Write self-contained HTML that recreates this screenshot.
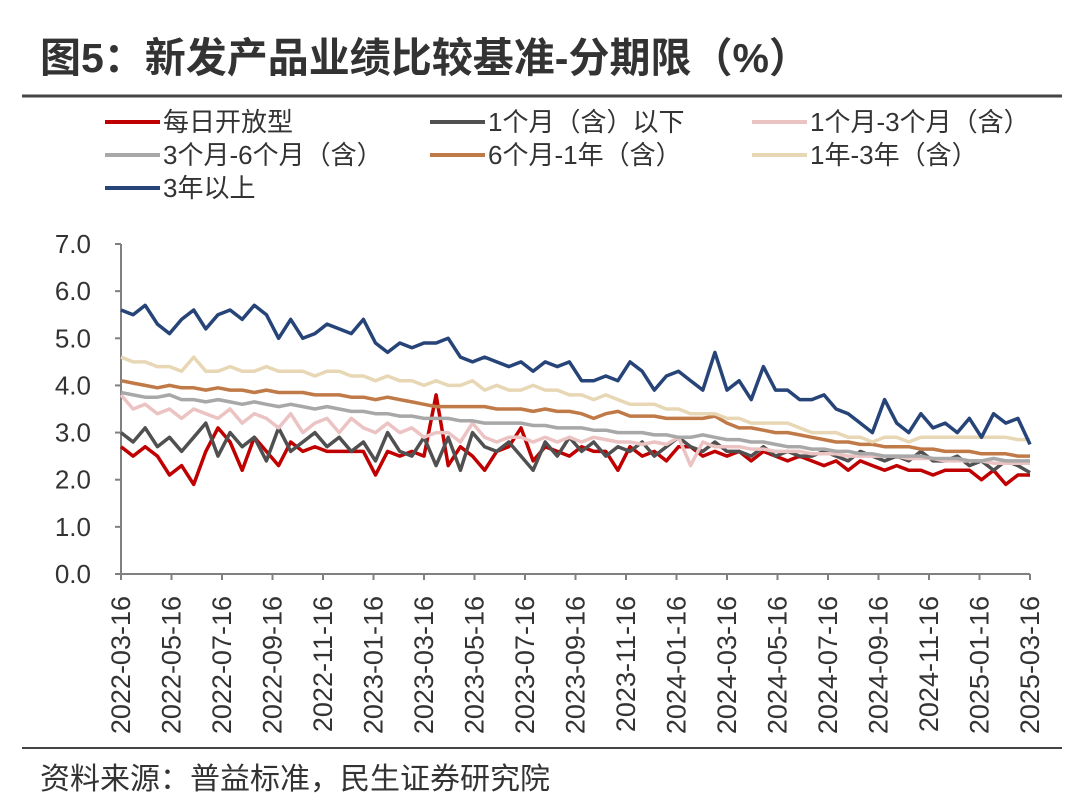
<!DOCTYPE html>
<html><head><meta charset="utf-8"><style>
body{margin:0;background:#fff;width:1080px;height:801px;overflow:hidden;font-family:"Liberation Sans","Noto Sans CJK SC",sans-serif;}
</style></head><body>
<svg width="1080" height="801" font-family="Liberation Sans, Noto Sans CJK SC, sans-serif">
<text x="40" y="72" font-size="41" font-weight="bold" fill="#333">图5：新发产品业绩比较基准-分期限（%）</text>
<line x1="22" y1="96" x2="1062" y2="96" stroke="#444" stroke-width="3"/>
<line x1="22" y1="748" x2="1062" y2="748" stroke="#444" stroke-width="2"/>
<text x="40" y="789" font-size="30" fill="#333">资料来源：普益标准，民生证券研究院</text>
<g id="legend"></g><g id="axes"></g><g id="plot"></g>
</svg>
<script>
const names=["每日开放型","1个月（含）以下","1个月-3个月（含）","3个月-6个月（含）","6个月-1年（含）","1年-3年（含）","3年以上"];
const colors=["#c00000","#505050","#ecc3c3","#a8a8a8","#c07a48","#e8d7b4","#264478"];
const xLabels=["2022-03-16","2022-05-16","2022-07-16","2022-09-16","2022-11-16","2023-01-16","2023-03-16","2023-05-16","2023-07-16","2023-09-16","2023-11-16","2024-01-16","2024-03-16","2024-05-16","2024-07-16","2024-09-16","2024-11-16","2025-01-16","2025-03-16"];
const yTicks=[0,1,2,3,4,5,6,7];
const sRed=[2.7,2.5,2.7,2.5,2.1,2.3,1.9,2.6,3.1,2.8,2.2,2.9,2.6,2.3,2.8,2.6,2.7,2.6,2.6,2.6,2.6,2.1,2.6,2.5,2.6,2.5,3.8,2.3,2.7,2.5,2.2,2.6,2.7,3.1,2.4,2.7,2.6,2.5,2.7,2.6,2.6,2.2,2.7,2.5,2.6,2.4,2.7,2.7,2.5,2.6,2.5,2.6,2.4,2.6,2.5,2.4,2.5,2.4,2.3,2.4,2.2,2.4,2.3,2.2,2.3,2.2,2.2,2.1,2.2,2.2,2.2,2.0,2.2,1.9,2.1,2.1];
const sDark=[3.0,2.8,3.1,2.7,2.9,2.6,2.9,3.2,2.5,3.0,2.7,2.9,2.4,3.1,2.6,2.8,3.0,2.7,2.9,2.6,2.8,2.4,3.0,2.6,2.5,2.9,2.3,2.9,2.2,3.0,2.7,2.6,2.8,2.5,2.2,2.8,2.5,2.9,2.6,2.8,2.5,2.7,2.6,2.8,2.5,2.7,2.9,2.7,2.6,2.8,2.6,2.6,2.5,2.7,2.5,2.6,2.5,2.5,2.6,2.5,2.4,2.6,2.5,2.4,2.5,2.4,2.6,2.4,2.4,2.5,2.3,2.4,2.2,2.4,2.3,2.15];
const sPink=[3.8,3.5,3.6,3.4,3.5,3.3,3.5,3.4,3.3,3.5,3.2,3.4,3.3,3.1,3.4,3.0,3.2,3.3,3.0,3.3,3.1,3.0,3.2,3.0,3.1,2.9,3.0,3.0,2.8,3.2,2.9,2.8,2.9,2.9,2.8,2.9,2.8,2.9,2.8,2.9,2.85,2.8,2.8,2.75,2.8,2.75,2.9,2.3,2.8,2.7,2.7,2.7,2.65,2.65,2.6,2.6,2.6,2.55,2.55,2.55,2.5,2.5,2.5,2.5,2.5,2.45,2.45,2.45,2.4,2.4,2.4,2.4,2.35,2.35,2.35,2.35];
const sGray=[3.85,3.8,3.75,3.75,3.8,3.7,3.7,3.65,3.7,3.65,3.6,3.65,3.6,3.55,3.6,3.55,3.5,3.55,3.5,3.45,3.45,3.4,3.4,3.35,3.35,3.3,3.3,3.3,3.25,3.25,3.2,3.2,3.2,3.2,3.15,3.15,3.1,3.1,3.1,3.05,3.05,3.0,3.0,3.0,2.95,2.95,2.9,2.9,2.95,2.9,2.85,2.85,2.8,2.8,2.75,2.7,2.7,2.65,2.65,2.6,2.6,2.55,2.55,2.5,2.5,2.5,2.5,2.45,2.45,2.45,2.4,2.4,2.45,2.4,2.4,2.4];
const sBrown=[4.1,4.05,4.0,3.95,4.0,3.95,3.95,3.9,3.95,3.9,3.9,3.85,3.9,3.85,3.85,3.85,3.8,3.8,3.8,3.75,3.75,3.7,3.75,3.7,3.65,3.6,3.55,3.55,3.55,3.55,3.55,3.5,3.5,3.5,3.45,3.5,3.45,3.45,3.4,3.3,3.4,3.45,3.35,3.35,3.35,3.3,3.3,3.3,3.3,3.35,3.2,3.1,3.1,3.05,3.0,3.0,2.95,2.9,2.85,2.8,2.8,2.75,2.75,2.7,2.7,2.7,2.65,2.65,2.6,2.6,2.6,2.55,2.55,2.55,2.5,2.5];
const sBeige=[4.6,4.5,4.5,4.4,4.4,4.3,4.6,4.3,4.3,4.4,4.3,4.3,4.4,4.3,4.3,4.3,4.2,4.3,4.3,4.2,4.2,4.1,4.2,4.1,4.1,4.0,4.1,4.0,4.0,4.1,3.9,4.0,3.9,3.9,4.0,3.9,3.9,3.8,3.8,3.7,3.8,3.7,3.6,3.6,3.6,3.5,3.5,3.4,3.4,3.4,3.3,3.3,3.2,3.2,3.2,3.2,3.1,3.0,3.0,3.0,2.9,2.9,2.8,2.9,2.9,2.8,2.9,2.9,2.9,2.9,2.9,2.9,2.9,2.9,2.85,2.85];
const sBlue=[5.6,5.5,5.7,5.3,5.1,5.4,5.6,5.2,5.5,5.6,5.4,5.7,5.5,5.0,5.4,5.0,5.1,5.3,5.2,5.1,5.4,4.9,4.7,4.9,4.8,4.9,4.9,5.0,4.6,4.5,4.6,4.5,4.4,4.5,4.3,4.5,4.4,4.5,4.1,4.1,4.2,4.1,4.5,4.3,3.9,4.2,4.3,4.1,3.9,4.7,3.9,4.1,3.7,4.4,3.9,3.9,3.7,3.7,3.8,3.5,3.4,3.2,3.0,3.7,3.2,3.0,3.4,3.1,3.2,3.0,3.3,2.9,3.4,3.2,3.3,2.75];
const series=[sRed,sDark,sPink,sGray,sBrown,sBeige,sBlue];
const keys=["daily-open","under-1m","1m-3m","3m-6m","6m-1y","1y-3y","over-3y"];
const NS="http://www.w3.org/2000/svg";
const X0=121,X1=1030,Y0=574,Y7=244;
const yS=v=>Y0-(v/7)*(Y0-Y7);
const xS=(i,n)=>X0+i*(X1-X0)/(n-1);
function mk(tag,attrs,parent){const e=document.createElementNS(NS,tag);for(const k in attrs)e.setAttribute(k,attrs[k]);parent.appendChild(e);return e;}
const axes=document.getElementById('axes'),plot=document.getElementById('plot'),leg=document.getElementById('legend');
const ya=mk('line',{x1:X0,y1:Y7,x2:X0,y2:Y0,stroke:'#808080','stroke-width':2},axes);


const xa=mk('line',{x1:X0,y1:Y0,x2:X1,y2:Y0,stroke:'#808080','stroke-width':2},axes);


yTicks.forEach(v=>{
  const t=mk('line',{x1:X0-6,y1:yS(v),x2:X0,y2:yS(v),stroke:'#808080','stroke-width':2},axes);
  
  
  const l=mk('text',{x:X0-30,y:yS(v)+9,'text-anchor':'end','font-size':26,fill:'#333'},axes);
  l.textContent=v.toFixed(1);
  
  
});
xLabels.forEach((s,i)=>{
  const x=xS(i,xLabels.length);
  const t=mk('line',{x1:x,y1:Y0,x2:x,y2:Y0+6,stroke:'#808080','stroke-width':2},axes);
  
  
  const l=mk('text',{x:0,y:0,'text-anchor':'end','font-size':27,fill:'#333',transform:`translate(${x+9},${Y0+22}) rotate(-90)`},axes);
  l.textContent=s;
  
  
});
series.forEach((arr,k)=>{
  const d=arr.map((v,i)=>(i?'L':'M')+xS(i,arr.length).toFixed(1)+','+yS(v).toFixed(1)).join(' ');
  const p=mk('path',{d:d,fill:'none',stroke:colors[k],'stroke-width':3.5,'stroke-linejoin':'round'},plot);
  
  
});
const legPos=[[105,122],[430,122],[752,122],[105,155],[430,155],[752,155],[105,188]];
names.forEach((n,k)=>{
  const [x,y]=legPos[k];
  const g=mk('g',{},leg);
  
  
  mk('line',{x1:x,y1:y,x2:x+55,y2:y,stroke:colors[k],'stroke-width':4},g);
  const t=mk('text',{x:x+58,y:y+9,'font-size':26,fill:'#333'},g);
  t.textContent=n;
});
</script>
</body></html>
